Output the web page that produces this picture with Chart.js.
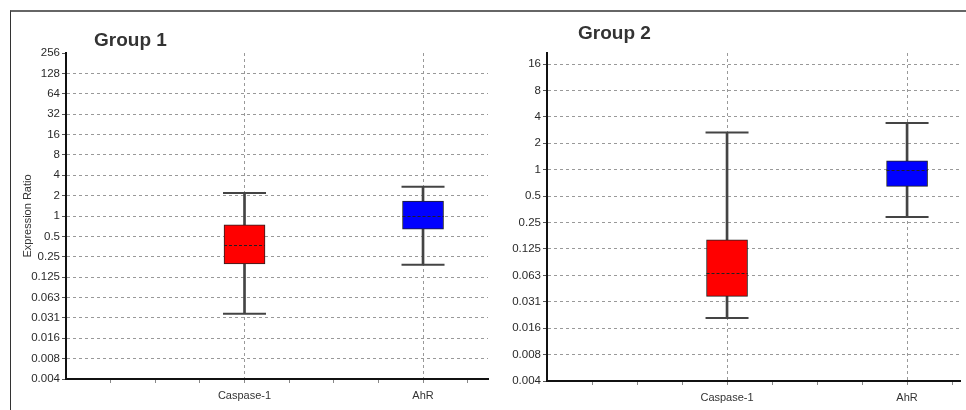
<!DOCTYPE html>
<html>
<head>
<meta charset="utf-8">
<script src="https://cdn.jsdelivr.net/npm/chart.js@4.4.1/dist/chart.umd.min.js"></script>
<style>
  html, body { margin: 0; padding: 0; background: #fff; }
  body { width: 966px; height: 410px; position: relative; overflow: hidden; font-family: "Liberation Sans", Arial, sans-serif; }
  .frame { position: absolute; left: 10px; top: 10px; right: -2px; bottom: -2px; border-top: 2px solid #666; border-left: 1px solid #333; }
  .panel { position: absolute; top: 0; height: 410px; }
  .title { position: absolute; font-weight: bold; font-size: 19px; line-height: 1; color: #333; }
</style>
</head>
<body>
<div class="frame"></div>
<div class="panel" style="left:0;width:490px"><canvas id="group1"></canvas></div>
<div class="panel" style="left:490px;width:476px"><canvas id="group2"></canvas></div>
<div class="title" style="left:94px;top:30px">Group 1</div>
<div class="title" style="left:578px;top:23px">Group 2</div>
<script>
// categories and box colours
const categories = ["Caspase-1", "AhR"];
const boxColors = ["#ff0000", "#0000ff"];

// y tick labels (log2 axis, 0.004 = 2^-8)
const g1TickLabels = ["0.004", "0.008", "0.016", "0.031", "0.063", "0.125", "0.25", "0.5", "1", "2", "4", "8", "16", "32", "64", "128", "256"];
const g2TickLabels = ["0.004", "0.008", "0.016", "0.031", "0.063", "0.125", "0.25", "0.5", "1", "2", "4", "8", "16"];

// Group 1 box plot values
const g1Min = [0.036, 0.19];
const g1Q1 = [0.196, 0.64];
const g1Median = [0.37, 0.99];
const g1Q3 = [0.74, 1.66];
const g1Max = [2.18, 2.71];

// Group 2 box plot values
const g2Min = [0.0204, 0.29];
const g2Q1 = [0.036, 0.645];
const g2Median = [0.066, 0.98];
const g2Q3 = [0.159, 1.26];
const g2Max = [2.66, 3.41];

// dashed median line across each box
const medianPlugin = {
  id: "medianLines",
  afterDatasetsDraw(chart, args, opts) {
    const meta = chart.getDatasetMeta(1);
    const yScale = chart.scales.y;
    const ctx = chart.ctx;
    ctx.save();
    ctx.strokeStyle = "#222";
    ctx.lineWidth = 1;
    ctx.setLineDash([3, 2]);
    meta.data.forEach((bar, i) => {
      const y = Math.round(yScale.getPixelForValue(opts.values[i])) + 0.5;
      ctx.beginPath();
      ctx.moveTo(bar.x - bar.width / 2, y);
      ctx.lineTo(bar.x + bar.width / 2, y);
      ctx.stroke();
    });
    ctx.restore();
  }
};

function buildBoxChart(canvasId, cfg) {
  const yTickValues = cfg.tickLabels.map((_, i) => Math.pow(2, i - 8));
  const whiskers = categories.map((c, i) => ({ x: i + 1, y: [cfg.min[i], cfg.max[i]] }));
  const boxes = categories.map((c, i) => ({ x: i + 1, y: [cfg.q1[i], cfg.q3[i]] }));
  const caps = categories.flatMap((c, i) => [{ x: i + 1, y: cfg.min[i] }, { x: i + 1, y: cfg.max[i] }]);

  return new Chart(document.getElementById(canvasId), {
    type: "bar",
    plugins: [medianPlugin],
    data: {
      datasets: [
        {
          label: "caps",
          type: "line",
          data: caps,
          showLine: false,
          pointStyle: "line",
          pointRadius: 21.5,
          pointBorderWidth: 2,
          pointBorderColor: "#444",
          order: 1,
        },
        {
          label: "box",
          data: boxes,
          backgroundColor: boxColors,
          borderColor: "#222",
          borderWidth: 1,
          borderSkipped: false,
          barThickness: 41,
          grouped: false,
          order: 2,
        },
        {
          label: "whisker",
          data: whiskers,
          backgroundColor: "#444",
          borderWidth: 0,
          barThickness: 2,
          grouped: false,
          order: 3,
        },
      ],
    },
    options: {
      responsive: true,
      maintainAspectRatio: false,
      animation: false,
      layout: { padding: cfg.padding, autoPadding: false },
      plugins: {
        legend: { display: false },
        tooltip: { enabled: false },
        medianLines: { values: cfg.median },
      },
      scales: {
        x: {
          type: "linear",
          min: 0,
          max: cfg.xMax,
          offset: false,
          afterFit: (scale) => { scale.height = cfg.xHeight; },
          ticks: {
            stepSize: 0.25,
            includeBounds: false,
            autoSkip: false,
            maxRotation: 0,
            padding: 6,
            color: "#333",
            font: { family: "Liberation Sans", size: 11 },
            callback: (v) => (Number.isInteger(v) && v >= 1 ? categories[v - 1] : ""),
          },
          grid: {
            offset: false,
            color: (ctx) => (ctx.tick && Number.isInteger(ctx.tick.value) && ctx.tick.value >= 1 ? "#999" : "rgba(0,0,0,0)"),
            tickColor: (ctx) => (ctx.tick && ctx.tick.value > 0 ? "#888" : "rgba(0,0,0,0)"),
            tickLength: 4,
            lineWidth: 1,
          },
          border: { display: true, color: "#111", width: 2, dash: [3, 3] },
        },
        y: {
          type: "logarithmic",
          min: Math.pow(2, -8),
          max: cfg.yMax,
          afterFit: (scale) => { scale.width = cfg.yWidth; },
          afterBuildTicks: (scale) => { scale.ticks = yTickValues.map((v) => ({ value: v })); },
          ticks: {
            autoSkip: false,
            padding: 2,
            color: "#2a2a2a",
            font: { family: "Liberation Sans", size: 11.5 },
            callback: (v, i) => cfg.tickLabels[i],
          },
          grid: {
            color: (ctx) => (ctx.tick && ctx.tick.value >= cfg.yMax ? "rgba(0,0,0,0)" : "#999"),
            tickColor: "#555",
            tickLength: 4,
            lineWidth: 1,
          },
          border: { display: true, color: "#111", width: 2, dash: [3, 3] },
          title: {
            display: cfg.yTitle !== "",
            text: cfg.yTitle,
            color: "#333",
            padding: 0,
            font: { family: "Liberation Sans", size: 11 },
          },
        },
      },
    },
  });
}

buildBoxChart("group1", {
  tickLabels: g1TickLabels,
  min: g1Min, q1: g1Q1, median: g1Median, q3: g1Q3, max: g1Max,
  yMax: 256,
  xMax: 2.364,
  yTitle: "Expression Ratio",
  yWidth: 45,
  xHeight: 31,
  padding: { left: 21, top: 53, right: 2, bottom: 0 },
});

buildBoxChart("group2", {
  tickLabels: g2TickLabels,
  min: g2Min, q1: g2Q1, median: g2Median, q3: g2Q3, max: g2Max,
  yMax: 21.4,
  xMax: 2.294,
  yTitle: "",
  yWidth: 47,
  xHeight: 29,
  padding: { left: 10, top: 53, right: 6, bottom: 0 },
});
</script>
</body>
</html>
